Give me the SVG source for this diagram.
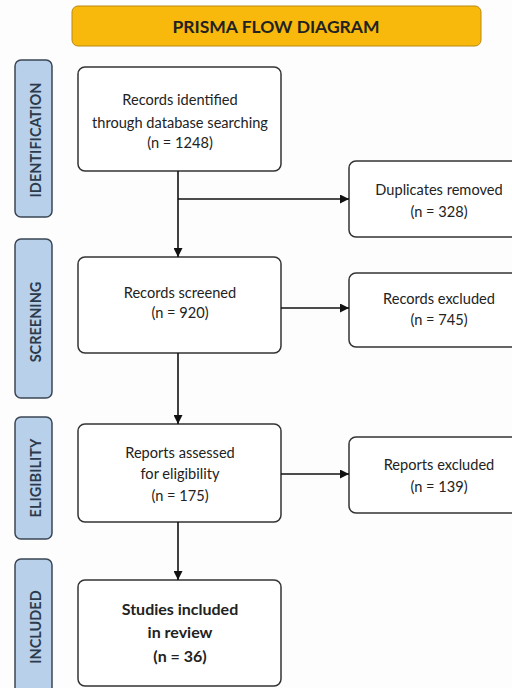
<svg xmlns="http://www.w3.org/2000/svg" width="512" height="688" viewBox="0 0 512 688">
<defs>
<marker id="ah" viewBox="0 0 10 10" refX="10" refY="5" markerWidth="9" markerHeight="9" markerUnits="userSpaceOnUse" orient="auto"><path d="M0,0 L10,5 L0,10 z" fill="#111"/></marker>
<style>
.box{fill:#fff;stroke:#333;stroke-width:1.5}
.stage{fill:#b8d0ea;stroke:#3a4654;stroke-width:1.5}
.t{font-family:Lato,"Open Sans",sans-serif;font-size:14.6px;fill:#222;text-anchor:middle}
.b{font-weight:bold;font-size:16px}
.s{font-family:Lato,"Open Sans",sans-serif;font-size:14.5px;font-weight:bold;fill:#2c3a4c;text-anchor:middle}
.c{fill:none;stroke:#111;stroke-width:1.6}
</style>
</defs>
<rect width="512" height="688" fill="#fdfdfd"/>
<g id="title"><rect x="72" y="6" width="409" height="40" rx="6" fill="#f8b90c" stroke="#b98a10" stroke-width="1"/><text x="276" y="33" class="t" style="font-weight:bold;font-size:17.5px">PRISMA FLOW DIAGRAM</text></g>
<g id="stage-identification"><rect x="15" y="60" width="37" height="157" rx="6" class="stage"/><text class="s" transform="translate(41,140) rotate(-90)">IDENTIFICATION</text></g>
<g id="stage-screening"><rect x="15" y="239" width="37" height="159" rx="6" class="stage"/><text class="s" transform="translate(41,322) rotate(-90)">SCREENING</text></g>
<g id="stage-eligibility"><rect x="15" y="417" width="37" height="122" rx="6" class="stage"/><text class="s" transform="translate(41,478) rotate(-90)">ELIGIBILITY</text></g>
<g id="stage-included"><rect x="15" y="559" width="37" height="140" rx="6" class="stage"/><text class="s" transform="translate(41,627) rotate(-90)">INCLUDED</text></g>
<g id="identified"><rect x="78" y="67" width="203" height="104" rx="7" class="box"/><text class="t" x="180" y="105">Records identified</text><text class="t" x="180" y="128">through database searching</text><text class="t" x="180" y="148">(n = 1248)</text></g>
<g id="duplicates"><rect x="349" y="161" width="180" height="76" rx="7" class="box"/><text class="t" x="439" y="195">Duplicates removed</text><text class="t" x="439" y="217">(n = 328)</text></g>
<g id="screened"><rect x="78" y="257" width="203" height="96" rx="7" class="box"/><text class="t" x="180" y="298">Records screened</text><text class="t" x="180" y="318">(n = 920)</text></g>
<g id="records-excluded"><rect x="349" y="273" width="180" height="74" rx="7" class="box"/><text class="t" x="439" y="304">Records excluded</text><text class="t" x="439" y="325">(n = 745)</text></g>
<g id="assessed"><rect x="78" y="424" width="203" height="98" rx="7" class="box"/><text class="t" x="180" y="458">Reports assessed</text><text class="t" x="180" y="479">for eligibility</text><text class="t" x="180" y="501">(n = 175)</text></g>
<g id="reports-excluded"><rect x="349" y="437" width="180" height="76" rx="7" class="box"/><text class="t" x="439" y="470">Reports excluded</text><text class="t" x="439" y="492">(n = 139)</text></g>
<g id="included"><rect x="78" y="580" width="203" height="106" rx="7" class="box"/><text class="t b" x="180" y="615">Studies included</text><text class="t b" x="180" y="638">in review</text><text class="t b" x="180" y="662">(n = 36)</text></g>
<g id="connectors">
<path class="c" d="M178,171 V257" marker-end="url(#ah)"/>
<path class="c" d="M178,199 H349" marker-end="url(#ah)"/>
<path class="c" d="M281,308 H349" marker-end="url(#ah)"/>
<path class="c" d="M178,353 V424" marker-end="url(#ah)"/>
<path class="c" d="M281,474 H349" marker-end="url(#ah)"/>
<path class="c" d="M178,522 V580" marker-end="url(#ah)"/>
</g>
</svg>
